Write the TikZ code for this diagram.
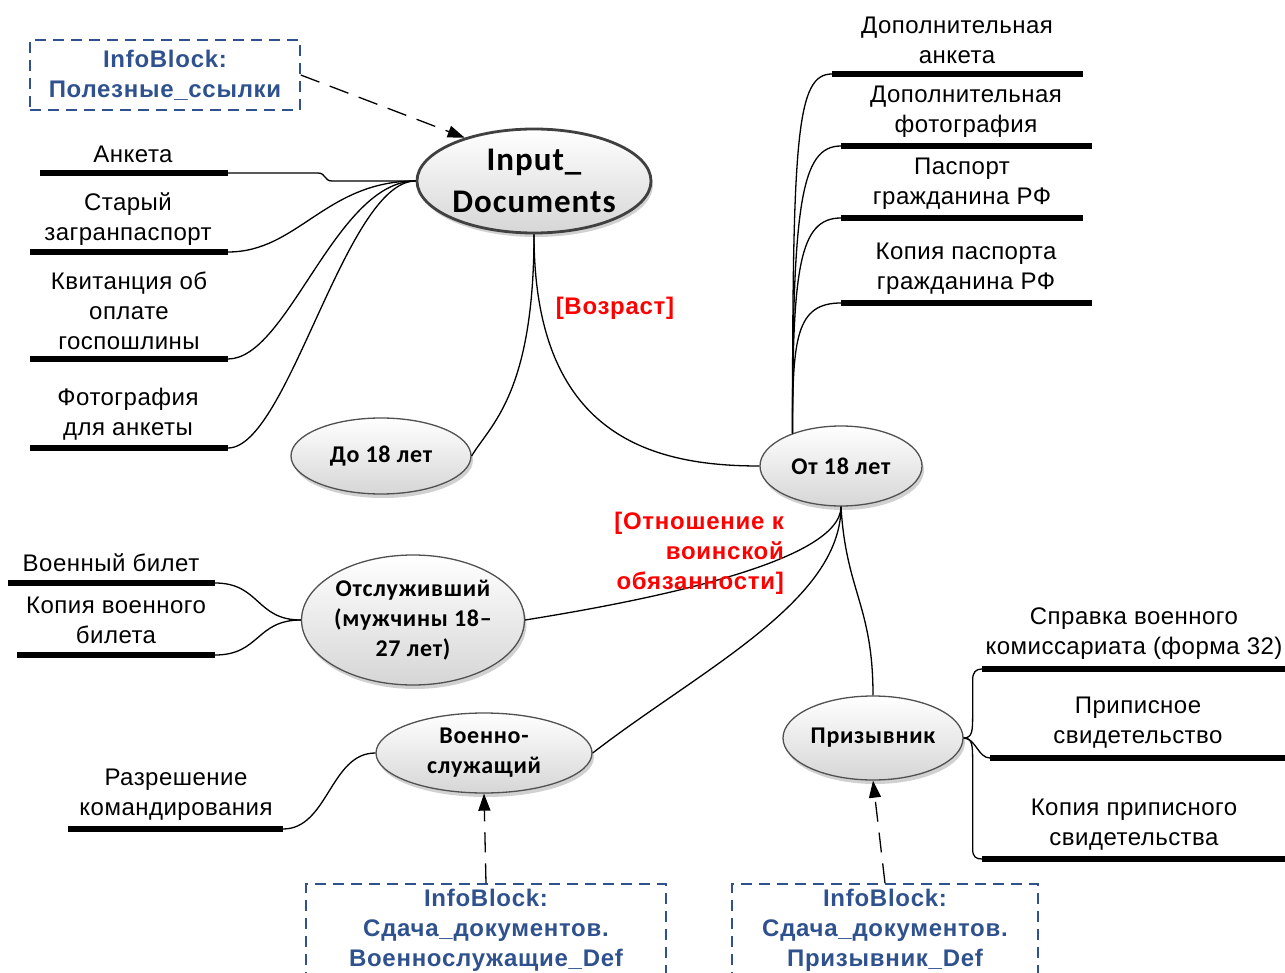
\documentclass[tikz,border=0pt]{standalone}
\usepackage{fontspec}
\setmainfont{Liberation Sans}[LetterSpace=2]
\newfontfamily\arialbold{Liberation Sans}[LetterSpace=3]
\newfontfamily\calfont{Carlito}[LetterSpace=3]
\usetikzlibrary{shapes.geometric,arrows.meta,shadows,shadings}
\definecolor{infoblue}{RGB}{47,82,143}
\definecolor{edgegray}{RGB}{80,80,80}
\definecolor{darkedge}{RGB}{64,64,64}
\definecolor{ellbot}{RGB}{214,214,214}
\begin{document}
\begin{tikzpicture}[x=1pt,y=-1pt,
  ell/.style={ellipse, draw=edgegray, line width=1.3pt, top color=white, bottom color=ellbot,
    inner sep=0pt, align=center, font=\calfont\bfseries\fontsize{24}{30}\selectfont,
    drop shadow={shadow xshift=2pt, shadow yshift=-4pt, opacity=0.18, fill=black}},
  doc/.style={font=\fontsize{24}{30}\selectfont, align=center, inner sep=0pt},
  bar/.style={line width=6.5pt},
  conn/.style={line width=1.3pt},
  infobox/.style={draw=infoblue, dash pattern=on 11pt off 7pt, line width=1.5pt, text=infoblue,
    font=\arialbold\bfseries\fontsize{24}{30}\selectfont, align=center, inner sep=0pt},
  cond/.style={text=red, font=\arialbold\bfseries\fontsize{24}{30}\selectfont, align=right, inner sep=0pt},
  dep/.style={dash pattern=on 20pt off 11pt, line width=1.3pt, -{Triangle[length=17pt,width=12pt]}}
]
\useasboundingbox (0,0) rectangle (1285,973);
\clip (0,0) rectangle (1285,973);

% ellipses
\node[ell, line width=2.8pt, draw=darkedge, minimum width=234pt, minimum height=104pt,
  font=\calfont\bfseries\fontsize{33}{42}\selectfont] (inp) at (534,181) {Input\_\\Documents};
\node[ell, minimum width=180pt, minimum height=76pt] (do18) at (381,456) {До 18 лет};
\node[ell, minimum width=162pt, minimum height=80pt] (ot18) at (841,466) {От 18 лет};
\node[ell, minimum width=216pt, minimum height=130pt] (otsl) at (413,620) {Отслуживший\\(мужчины 18–\\27 лет)};
\node[ell, minimum width=216pt, minimum height=80pt] (voen) at (484,753) {Военно-\\служащий};
\node[ell, minimum width=180pt, minimum height=84pt] (priz) at (873,738) {Призывник};

% left documents of Input_Documents
\coordinate (anL) at (40,173);  \coordinate (anR) at (228,173);
\coordinate (stL) at (30,252);  \coordinate (stR) at (228,252);
\coordinate (kvL) at (30,359);  \coordinate (kvR) at (228,359);
\coordinate (foL) at (30,448);  \coordinate (foR) at (228,448);
\draw[bar] (anL) -- (anR);
\draw[bar] (stL) -- (stR);
\draw[bar] (kvL) -- (kvR);
\draw[bar] (foL) -- (foR);
\node[doc] (an) at (133,154) {Анкета};
\node[doc] (st) at (128,219) {Старый\\загранпаспорт};
\node[doc] (kv) at (129,311) {Квитанция об\\оплате\\госпошлины};
\node[doc] (fo) at (128,414) {Фотография\\для анкеты};
\draw[conn] (anR) -- ++(90,0) .. controls +(8,0) and +(-8,0) .. ++(14,8) -- (inp.west);
\draw[conn] (stR) .. controls +(70,0) and +(-90,0) .. (inp.west);
\draw[conn] (kvR) .. controls +(60,0) and +(-80,0) .. (inp.west);
\draw[conn] (foR) .. controls +(60,0) and +(-70,0) .. (inp.west);

% right-top documents of От 18 лет
\coordinate (daL) at (832,74);  \coordinate (daR) at (1083,74);
\coordinate (dfL) at (841,146); \coordinate (dfR) at (1092,146);
\coordinate (paL) at (841,218); \coordinate (paR) at (1083,218);
\coordinate (kpL) at (841,303); \coordinate (kpR) at (1092,303);
\draw[bar] (daL) -- (daR);
\draw[bar] (dfL) -- (dfR);
\draw[bar] (paL) -- (paR);
\draw[bar] (kpL) -- (kpR);
\node[doc] (da) at (957,40) {Дополнительная\\анкета};
\node[doc] (df) at (966,112) {Дополнительная\\фотография};
\node[doc] (pa) at (962,184) {Паспорт\\гражданина РФ};
\node[doc] (kp) at (966,269) {Копия паспорта\\гражданина РФ};
\draw[conn] (ot18.146) .. controls +(0,-300) and +(-35,0) .. (daL);
\draw[conn] (ot18.146) .. controls +(0,-230) and +(-40,0) .. (dfL);
\draw[conn] (ot18.146) .. controls +(0,-165) and +(-42,0) .. (paL);
\draw[conn] (ot18.146) .. controls +(0,-95) and +(-45,0) .. (kpL);

% age branches
\draw[conn] (inp.south) .. controls +(0,160) and (490,425) .. (do18.east);
\draw[conn] (inp.south) .. controls +(0,200) and +(-110,0) .. (ot18.west);
\node[cond, align=center] (age) at (615,308) {[Возраст]};

% military branches
\draw[conn] (ot18.south) .. controls +(0,55) and (650,600) .. (otsl.east);
\draw[conn] (ot18.south) .. controls +(0,95) and (700,670) .. (voen.east);
\draw[conn] (ot18.south) .. controls +(5,85) and +(0,-90) .. (priz.north);
\node[cond, anchor=east] (mil) at (784,553) {[Отношение к\\воинской\\обязанности]};

% Отслуживший documents
\coordinate (vbL) at (8,583);  \coordinate (vbR) at (215,583);
\coordinate (kbL) at (17,655); \coordinate (kbR) at (215,655);
\draw[bar] (vbL) -- (vbR);
\draw[bar] (kbL) -- (kbR);
\node[doc] (vb) at (111,563) {Военный билет};
\node[doc] (kb) at (116,620) {Копия военного\\билета};
\draw[conn] (vbR) .. controls +(45,0) and +(-45,0) .. (otsl.west);
\draw[conn] (kbR) .. controls +(45,0) and +(-45,0) .. (otsl.west);

% Военнослужащий documents
\coordinate (rkL) at (68,829); \coordinate (rkR) at (283,829);
\draw[bar] (rkL) -- (rkR);
\node[doc] (rk) at (176,795) {Разрешение\\командирования};
\draw[conn] (rkR) .. controls +(45,0) and +(-45,0) .. (voen.west);

% Призывник documents
\coordinate (spL) at (982,669); \coordinate (spR) at (1285,669);
\coordinate (psL) at (990,758); \coordinate (psR) at (1285,758);
\coordinate (kpsL) at (982,859); \coordinate (kpsR) at (1285,859);
\draw[bar] (spL) -- (spR);
\draw[bar] (psL) -- (psR);
\draw[bar] (kpsL) -- (kpsR);
\node[doc] (sp) at (1134,634) {Справка военного\\комиссариата (форма 32)};
\node[doc] (ps) at (1138,723) {Приписное\\свидетельство};
\node[doc] (kps) at (1134,825) {Копия приписного\\свидетельства};
\draw[conn] (priz.east) .. controls +(9,0) and +(0,15) .. ++(9,-23) -- ++(0,-35) .. controls +(0,-8) and +(-6,0) .. (spL);
\draw[conn] (priz.east) .. controls +(12,0) and +(-12,0) .. (psL);
\draw[conn] (priz.east) .. controls +(9,0) and +(0,-15) .. ++(9,23) -- ++(0,88) .. controls +(0,8) and +(-6,0) .. (kpsL);

% InfoBlocks
\node[infobox, minimum width=270pt, minimum height=70pt] (ib1) at (165,75) {InfoBlock:\\Полезные\_ссылки};
\node[infobox, minimum width=360pt, minimum height=92pt] (ib2) at (486,930) {InfoBlock:\\Сдача\_документов.\\Военнослужащие\_Def};
\node[infobox, minimum width=306pt, minimum height=92pt] (ib3) at (885,930) {InfoBlock:\\Сдача\_документов.\\Призывник\_Def};
\draw[dep] (ib1.east) -- (inp.148);
\draw[dep] (ib2.north) -- (voen.south);
\draw[dep] (ib3.north) -- (priz.south);
\end{tikzpicture}
\end{document}
